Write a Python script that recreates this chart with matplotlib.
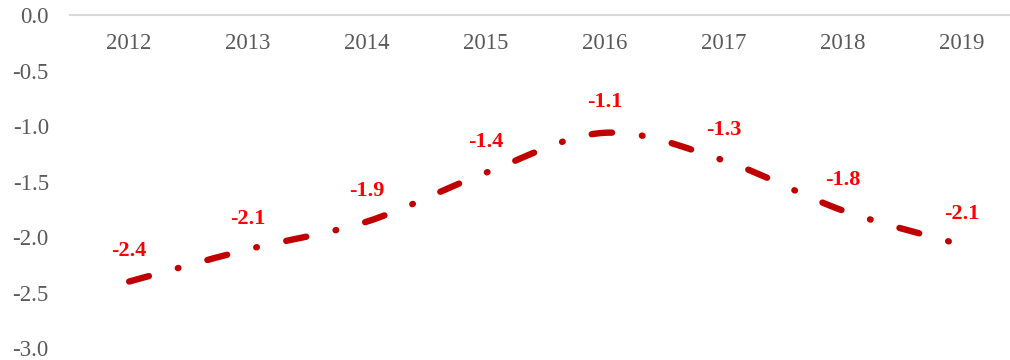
import matplotlib
matplotlib.use("Agg")
import numpy as np
import matplotlib.pyplot as plt
from matplotlib.path import Path
from matplotlib.patches import PathPatch

# Hodnoty po rokoch
years  = ["2012", "2013", "2014", "2015", "2016", "2017", "2018", "2019"]
values = [-2.40, -2.11, -1.86, -1.42, -1.06, -1.31, -1.76, -2.07]

yticks = [0.0, -0.5, -1.0, -1.5, -2.0, -2.5, -3.0]

LINE_COLOR  = "#C00000"
LABEL_COLOR = "#FF0000"
TICK_COLOR  = "#595959"
AXIS_COLOR  = "#D9D9D9"

plt.rcParams["font.family"] = ["Liberation Serif", "DejaVu Serif"]


def smooth_path(xs, ys):
    """Vyhladená krivka (Bézier s kontrolnými bodmi ako v Exceli)."""
    pts = np.column_stack([xs, ys]).astype(float)
    n = len(pts)
    verts = [pts[0]]
    codes = [Path.MOVETO]
    for i in range(n - 1):
        p0 = pts[max(i - 1, 0)]
        p1 = pts[i]
        p2 = pts[i + 1]
        p3 = pts[min(i + 2, n - 1)]
        c1 = p1 + (p2 - p0) / 6.0
        c2 = p2 - (p3 - p1) / 6.0
        verts += [c1, c2, p2]
        codes += [Path.CURVE4] * 3
    return Path(np.array(verts), codes)


fig = plt.figure(figsize=(10.1, 3.6), dpi=100)
ax = fig.add_axes([0.069, 0.033, 0.942, 0.925])

x = np.arange(len(years))
patch = PathPatch(smooth_path(x, values), fill=False, edgecolor=LINE_COLOR,
                  lw=4.6, linestyle=(0, (3.2, 4.7, 0.1, 4.7)),
                  capstyle="round", joinstyle="round")
ax.add_patch(patch)

for xi, v in zip(x, values):
    ax.annotate(f"{v:.1f}", (xi, v), xytext=(0, 22), textcoords="offset points",
                ha="center", va="center", color=LABEL_COLOR,
                fontsize=16, fontweight="bold")

ax.set_xlim(-0.5, len(years) - 0.5)
ax.set_ylim(-3.0, 0.0)

# horizontálna os pretína v nule -> hore
for side in ["top", "left", "right"]:
    ax.spines[side].set_visible(False)
ax.spines["bottom"].set_position(("data", 0))
ax.spines["bottom"].set_color(AXIS_COLOR)
ax.spines["bottom"].set_linewidth(1.5)

ax.set_xticks(x)
ax.set_xticklabels(years)
ax.set_yticks(yticks)
ax.set_yticklabels([f"{t:.1f}" for t in yticks])
ax.tick_params(axis="x", length=0, pad=13, labelsize=16.5, labelcolor=TICK_COLOR)
ax.tick_params(axis="y", length=0, pad=15, labelsize=16.5, labelcolor=TICK_COLOR)

fig.savefig("out.png", dpi=100)
